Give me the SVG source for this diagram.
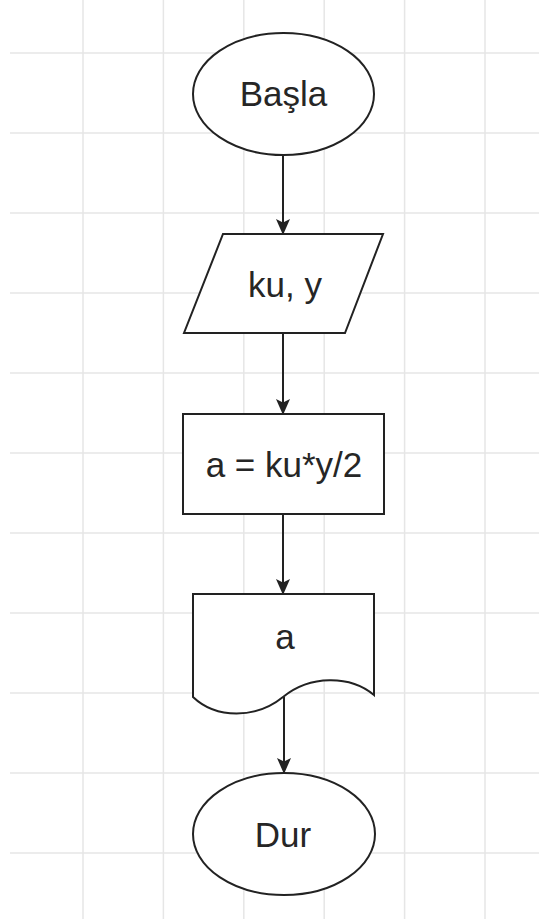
<svg xmlns="http://www.w3.org/2000/svg" width="539" height="924" viewBox="0 0 539 924">
  <defs>
    <style>
      .grid line { stroke: #e6e6e6; stroke-width: 1.5; }
      .shape { fill: #ffffff; stroke: #222222; stroke-width: 2; }
      .edge { fill: none; stroke: #222222; stroke-width: 2; }
      .lbl { font-family: "Liberation Sans", Arial, sans-serif; font-size: 35px; fill: #262626; text-anchor: middle; }
    </style>
    <marker id="arrow" viewBox="0 0 16 14" refX="15" refY="7" markerWidth="16" markerHeight="14" markerUnits="userSpaceOnUse" orient="auto">
      <path d="M0,0 L16,7 L0,14 L3.5,7 Z" fill="#222222"/>
    </marker>
  </defs>
  <rect x="0" y="0" width="539" height="924" fill="#ffffff"/>
  <g class="grid" id="grid">
    <line x1="83" y1="0" x2="83" y2="919"/>
    <line x1="163.4" y1="0" x2="163.4" y2="919"/>
    <line x1="243.8" y1="0" x2="243.8" y2="919"/>
    <line x1="324.2" y1="0" x2="324.2" y2="919"/>
    <line x1="404.6" y1="0" x2="404.6" y2="919"/>
    <line x1="485" y1="0" x2="485" y2="919"/>
    <line x1="10" y1="53" x2="539" y2="53"/>
    <line x1="10" y1="133" x2="539" y2="133"/>
    <line x1="10" y1="213" x2="539" y2="213"/>
    <line x1="10" y1="293" x2="539" y2="293"/>
    <line x1="10" y1="373" x2="539" y2="373"/>
    <line x1="10" y1="453" x2="539" y2="453"/>
    <line x1="10" y1="533" x2="539" y2="533"/>
    <line x1="10" y1="613" x2="539" y2="613"/>
    <line x1="10" y1="693" x2="539" y2="693"/>
    <line x1="10" y1="773" x2="539" y2="773"/>
    <line x1="10" y1="853" x2="539" y2="853"/>
  </g>
  <g id="connectors">
    <line class="edge" x1="283" y1="155" x2="283" y2="234" marker-end="url(#arrow)"/>
    <line class="edge" x1="283" y1="333" x2="283" y2="414" marker-end="url(#arrow)"/>
    <line class="edge" x1="283" y1="514" x2="283" y2="594" marker-end="url(#arrow)"/>
    <line class="edge" x1="284" y1="697" x2="284" y2="773" marker-end="url(#arrow)"/>
  </g>
  <g id="start">
    <ellipse class="shape" cx="283.5" cy="94" rx="90.5" ry="61"/>
    <text class="lbl" x="283.5" y="106">Başla</text>
  </g>
  <g id="input">
    <polygon class="shape" points="223,234 383,234 345,333 184,333"/>
    <text class="lbl" x="285" y="297">ku, y</text>
  </g>
  <g id="process">
    <rect class="shape" x="183" y="414" width="201" height="100"/>
    <text class="lbl" x="284" y="477">a = ku*y/2</text>
  </g>
  <g id="output">
    <path class="shape" d="M193,594 H374 V695 C350,675 310,675 283,697 C256,719 216,719 193,697 Z"/>
    <text class="lbl" x="285" y="649">a</text>
  </g>
  <g id="end">
    <ellipse class="shape" cx="284" cy="834" rx="91" ry="61"/>
    <text class="lbl" x="283" y="847">Dur</text>
  </g>
</svg>
